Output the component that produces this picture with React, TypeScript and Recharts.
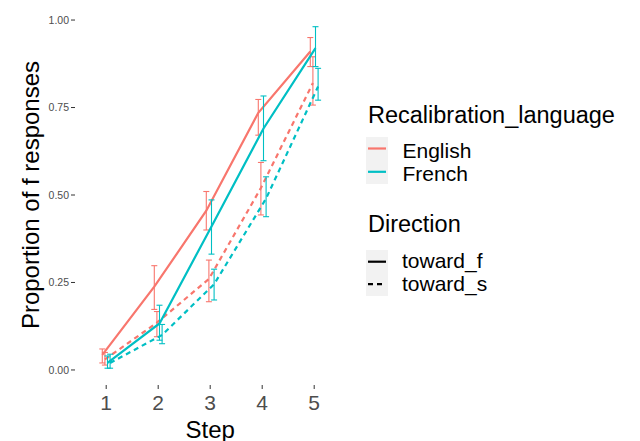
import React from "react"
import { ComposedChart, Line, XAxis, YAxis, ErrorBar } from "recharts"

const steps = [1, 2, 3, 4, 5]
const yTicks = [0, 0.25, 0.5, 0.75, 1]

// English, toward_f
const englishF = [0.043, 0.238, 0.455, 0.735, 0.91]
const englishFLow = [0.02, 0.173, 0.4, 0.671, 0.867]
const englishFHigh = [0.06, 0.298, 0.51, 0.773, 0.95]
// English, toward_s
const englishS = [0.03, 0.135, 0.26, 0.52, 0.82]
const englishSLow = [0.014, 0.095, 0.195, 0.443, 0.757]
const englishSHigh = [0.05, 0.167, 0.314, 0.593, 0.895]
// French, toward_f
const frenchF = [0.02, 0.133, 0.41, 0.69, 0.92]
const frenchFLow = [0.005, 0.085, 0.331, 0.598, 0.867]
const frenchFHigh = [0.04, 0.185, 0.486, 0.783, 0.981]
// French, toward_s
const frenchS = [0.02, 0.1, 0.245, 0.49, 0.81]
const frenchSLow = [0.005, 0.075, 0.2, 0.438, 0.771]
const frenchSHigh = [0.045, 0.13, 0.288, 0.552, 0.862]

const languages = ["English", "French"]
const directions = ["toward_f", "toward_s"]

const RED = "#F8766D"
const TEAL = "#00BFC4"
const FONT = "'Liberation Sans', Arial, sans-serif"
const DASH = "5 4"

const makeSeries = (offset: number, means: number[], lows: number[], highs: number[]) =>
  steps.map((s, i) => ({
    x: s + offset,
    y: means[i],
    err: [means[i] - lows[i], highs[i] - means[i]],
  }))

const series = [
  { key: "ef", color: RED, dash: undefined, data: makeSeries(-0.075, englishF, englishFLow, englishFHigh) },
  { key: "es", color: RED, dash: DASH, data: makeSeries(-0.025, englishS, englishSLow, englishSHigh) },
  { key: "ff", color: TEAL, dash: undefined, data: makeSeries(0.025, frenchF, frenchFLow, frenchFHigh) },
  { key: "fs", color: TEAL, dash: DASH, data: makeSeries(0.075, frenchS, frenchSLow, frenchSHigh) },
]

export default function App() {
  return (
    <div style={{ position: "relative", width: 640, height: 441, background: "#fff", fontFamily: FONT }}>
      <style>{`body{margin:0}`}</style>
      <ComposedChart width={640} height={441} margin={{ top: 5, right: 294.6, bottom: 0, left: 0 }}>
        <XAxis
          type="number"
          dataKey="x"
          domain={[0.4, 5.6]}
          ticks={steps}
          axisLine={false}
          tickLine={{ stroke: "#333333" }}
          tickSize={4}
          tickMargin={6}
          height={56}
          tick={{ fill: "#4D4D4D", fontSize: 21, fontFamily: FONT }}
          allowDataOverflow
        />
        <YAxis
          type="number"
          domain={[-0.043, 1.043]}
          ticks={yTicks}
          axisLine={false}
          tickLine={{ stroke: "#333333" }}
          tickSize={4}
          tickMargin={2}
          width={75}
          tick={{ fill: "#4D4D4D", fontSize: 10.5, fontFamily: FONT }}
          tickFormatter={(v: number) => v.toFixed(2)}
          allowDataOverflow
        />
        {series.map((s) => (
          <Line
            key={s.key}
            data={s.data}
            dataKey="y"
            type="linear"
            stroke={s.color}
            strokeWidth={2.2}
            strokeDasharray={s.dash}
            dot={false}
            activeDot={false}
            isAnimationActive={false}
          >
            <ErrorBar dataKey="err" direction="y" width={3} stroke={s.color} strokeWidth={1.1} />
          </Line>
        ))}
      </ComposedChart>

      {/* axis titles and legend */}
      <svg width={640} height={441} style={{ position: "absolute", left: 0, top: 0, pointerEvents: "none" }}>
        <text x={39} y={195} transform="rotate(-90 39 195)" textAnchor="middle" fontSize={24} fontFamily={FONT} fill="#000">
          Proportion of f responses
        </text>
        <text x={210.2} y={438} textAnchor="middle" fontSize={24} fontFamily={FONT} fill="#000">
          Step
        </text>

        <text x={368} y={123} fontSize={23.5} fontFamily={FONT} fill="#000">Recalibration_language</text>
        <rect x={366} y={137} width={22} height={47} fill="#F2F2F2" />
        {languages.map((l, i) => (
          <g key={l}>
            <line x1={368} x2={386} y1={148.5 + i * 23.3} y2={148.5 + i * 23.3} stroke={i === 0 ? RED : TEAL} strokeWidth={2.2} />
            <text x={402.5} y={158.3 + i * 22.5} fontSize={21} fontFamily={FONT} fill="#000">{l}</text>
          </g>
        ))}

        <text x={368} y={232} fontSize={23.5} fontFamily={FONT} fill="#000">Direction</text>
        <rect x={366} y={250} width={22} height={46} fill="#F2F2F2" />
        {directions.map((d, i) => (
          <g key={d}>
            <line x1={368} x2={386} y1={261.7 + i * 22.5} y2={261.7 + i * 22.5} stroke="#000" strokeWidth={2.2} strokeDasharray={i === 1 ? DASH : undefined} />
            <text x={402} y={268.3 + i * 23} fontSize={21} fontFamily={FONT} fill="#000">{d}</text>
          </g>
        ))}
      </svg>
    </div>
  )
}
